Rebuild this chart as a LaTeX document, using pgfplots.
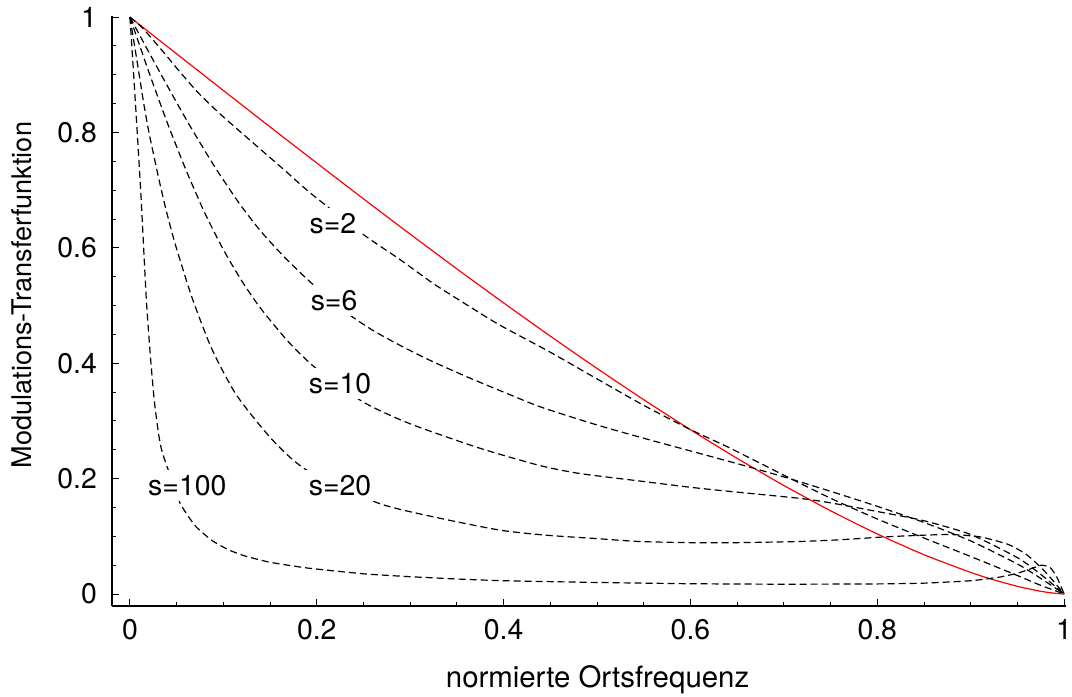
\documentclass[border=0pt]{standalone}
\usepackage{pgfplots}
\pgfplotsset{compat=1.18}
\usepackage{fontspec}
\setmainfont{TeX Gyre Heros}

\begin{document}
\begin{tikzpicture}[font=\fontsize{28.5}{34}\selectfont]
\begin{axis}[
  at={(0,0)}, anchor=south west,
  scale only axis,
  width=954bp, height=590bp,
  xmin=-0.0192, xmax=1.002, ymin=-0.0208, ymax=1.002,
  clip=false,
  axis x line*=bottom, axis y line*=left,
  axis line style={line width=1.3bp, -},
  xtick={0,0.2,0.4,0.6,0.8,1}, ytick={0,0.2,0.4,0.6,0.8,1},
  minor tick num=3,
  tick align=inside,
  major tick length=7bp, minor tick length=4.5bp,
  every tick/.style={black, line width=1bp},
  /pgf/number format/assume math mode=true,
  xticklabel style={anchor=north, inner sep=0pt, yshift=-13bp},
  yticklabel style={anchor=east, inner sep=0pt, xshift=-15bp},
  xlabel={normierte Ortsfrequenz},
  ylabel={Modulations-Transferfunktion},
  xlabel style={at={(axis description cs:0.509,-0.125)}, anchor=center, inner sep=0pt, font=\fontsize{29.5}{34}\selectfont},
  ylabel style={at={(axis description cs:-0.0943,0.527)}, anchor=center, inner sep=0pt, font=\fontsize{27.2}{32}\selectfont},
  every axis plot/.append style={line width=1.2bp},
]
% diffraction limited (red)
\addplot[red, smooth, tension=0.4] coordinates {
(0,1) (0.025,0.9682) (0.05,0.9364) (0.1,0.8729) (0.15,0.8097) (0.2,0.7471)
(0.25,0.6850) (0.3,0.6238) (0.35,0.5636) (0.4,0.5046) (0.45,0.4470)
(0.5,0.3910) (0.55,0.3368) (0.6,0.2848) (0.65,0.2351) (0.7,0.1881)
(0.75,0.1443) (0.8,0.1041) (0.85,0.0681) (0.9,0.0374) (0.925,0.0244)
(0.95,0.0133) (0.975,0.0047) (0.99,0.0013) (1,0)};
% s=2
\addplot[black, dash pattern=on 7bp off 4bp, smooth, tension=0.4] coordinates {
(0,1) (0.013,0.982) (0.034,0.943) (0.052,0.908) (0.073,0.869) (0.098,0.830)
(0.134,0.779) (0.166,0.734) (0.194,0.694) (0.25,0.623) (0.288,0.581)
(0.324,0.539) (0.353,0.509) (0.395,0.467) (0.449,0.420) (0.502,0.371)
(0.55,0.327) (0.6,0.285) (0.641,0.254) (0.7,0.206) (0.75,0.166)
(0.8,0.130) (0.85,0.097) (0.9,0.065) (0.95,0.032) (0.975,0.015) (1,0)};
% s=6
\addplot[black, dash pattern=on 7bp off 4bp, smooth, tension=0.4] coordinates {
(0,1) (0.02,0.940) (0.04,0.881) (0.063,0.815) (0.091,0.740) (0.118,0.675)
(0.141,0.627) (0.166,0.583) (0.187,0.550) (0.21,0.516) (0.235,0.484)
(0.26,0.457) (0.288,0.432) (0.32,0.406) (0.36,0.377) (0.4,0.350)
(0.44,0.324) (0.5,0.293) (0.55,0.270) (0.6,0.248)
(0.65,0.226) (0.7,0.203) (0.75,0.178) (0.8,0.152) (0.85,0.124)
(0.9,0.092) (0.95,0.052) (0.975,0.027) (1,0)};
% s=10
\addplot[black, dash pattern=on 7bp off 4bp, smooth, tension=0.4] coordinates {
(0,1) (0.02,0.906) (0.04,0.817) (0.06,0.735) (0.08,0.661) (0.1,0.597)
(0.12,0.542) (0.14,0.495) (0.17,0.4365) (0.2,0.390) (0.25,0.3325)
(0.3,0.295) (0.374,0.253) (0.438,0.223)
(0.481,0.209) (0.545,0.196) (0.6,0.185) (0.641,0.178) (0.716,0.166)
(0.75,0.158) (0.8,0.143) (0.85,0.127) (0.9,0.103) (0.95,0.063)
(0.975,0.034) (1,0)};
% s=20
\addplot[black, dash pattern=on 7bp off 4bp, smooth, tension=0.4] coordinates {
(0,1) (0.006,0.940) (0.011,0.889) (0.0146,0.852) (0.02,0.803) (0.0253,0.762)
(0.0306,0.722) (0.0385,0.667) (0.0484,0.607) (0.0662,0.515) (0.0876,0.425)
(0.114,0.345) (0.152,0.268) (0.189,0.215) (0.265,0.158) (0.324,0.134)
(0.395,0.111) (0.445,0.102) (0.5,0.096) (0.545,0.091) (0.6,0.089)
(0.65,0.089) (0.716,0.091) (0.76,0.094) (0.808,0.099) (0.85,0.102)
(0.88,0.103) (0.91,0.099) (0.94,0.086) (0.96,0.068) (0.98,0.038) (1,0)};
% s=100
\addplot[black, dash pattern=on 7bp off 4bp, smooth, tension=0.3] coordinates {
(0,1) (0.004,0.900) (0.008,0.795) (0.012,0.685) (0.0176,0.509) (0.022,0.410)
(0.026,0.336) (0.0306,0.278) (0.034,0.249) (0.0395,0.222) (0.0538,0.157)
(0.07,0.118) (0.0876,0.093) (0.105,0.077) (0.123,0.066) (0.15,0.055)
(0.19,0.045) (0.25,0.035) (0.3,0.030) (0.35,0.026) (0.4,0.023)
(0.5,0.020) (0.6,0.0178) (0.7,0.0170) (0.8,0.0175) (0.85,0.0188)
(0.9,0.023) (0.93,0.029) (0.95,0.036) (0.965,0.044) (0.976,0.050)
(0.985,0.046) (0.992,0.030) (1,0)};
% labels
\node[fill=white, inner sep=5bp] at (axis cs:0.2172,0.642) {s=2};
\node[fill=white, inner sep=5bp] at (axis cs:0.2185,0.509) {s=6};
\node[fill=white, inner sep=5bp] at (axis cs:0.2249,0.3645) {s=10};
\node[fill=white, inner sep=5bp] at (axis cs:0.2249,0.1877) {s=20};
\node[fill=white, inner sep=5bp] at (axis cs:0.0614,0.188) {s=100};
\end{axis}
\pgfresetboundingbox
\path[use as bounding box] (-112bp,-91bp) rectangle (960bp,606bp);
\end{tikzpicture}
\end{document}
